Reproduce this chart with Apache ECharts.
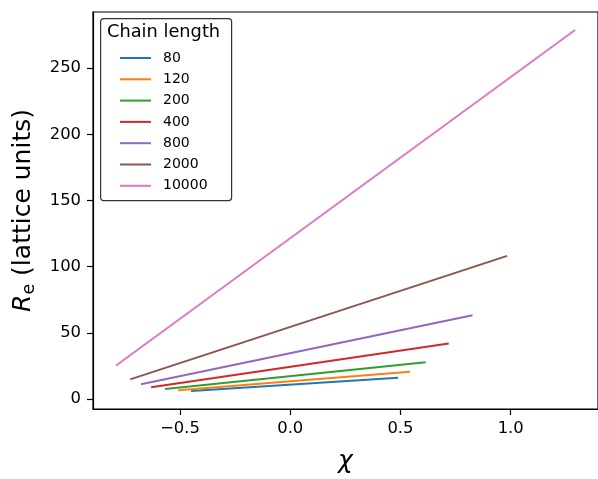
<!DOCTYPE html>
<html>
<head>
<meta charset="utf-8">
<script src="https://cdn.jsdelivr.net/npm/echarts@6/dist/echarts.min.js"></script>
<style>
html,body{margin:0;padding:0;background:#fff;}
#chart{width:598px;height:479px;}
</style>
</head>
<body>
<div id="chart"></div>
<script>
// Data
const chainLengths = ['80', '120', '200', '400', '800', '2000', '10000'];
const chiStart = [-0.450, -0.508, -0.568, -0.631, -0.677, -0.726, -0.790];
const chiEnd   = [0.489, 0.543, 0.614, 0.719, 0.827, 0.984, 1.292];
const reStart  = [6.0, 6.5, 7.5, 8.8, 11.1, 14.8, 25.3];
const reEnd    = [16.1, 20.6, 27.8, 41.9, 63.2, 108.1, 278.8];
const xTicks = [-0.5, 0.0, 0.5, 1.0];
const yTicks = [0, 50, 100, 150, 200, 250];

const colors = ['#1f77b4', '#ff7f0e', '#2ca02c', '#d62728', '#9467bd', '#8c564b', '#e377c2'];
const FONT = 'DejaVu Sans';

const chart = echarts.init(document.getElementById('chart'), null, {renderer: 'canvas'});

const series = chainLengths.map((name, i) => ({
  name: name,
  type: 'line',
  symbol: 'none',
  data: [[chiStart[i], reStart[i]], [chiEnd[i], reEnd[i]]],
  lineStyle: {color: colors[i], width: 2},
  itemStyle: {color: colors[i]},
  animation: false
}));

chart.setOption({
  animation: false,
  backgroundColor: '#fff',
  grid: {left: 93, top: 12, width: 512, height: 398.7, show: true, borderColor: '#000', borderWidth: 1.2, backgroundColor: 'transparent'},
  xAxis: {
    type: 'value', min: -0.8948, max: 1.396,
    splitLine: {show: false},
    axisLine: {show: true, onZero: false, lineStyle: {color: '#000', width: 1.2}},
    axisTick: {show: true, inside: false, length: 6, customValues: xTicks, lineStyle: {color: '#000', width: 1.2}},
    axisLabel: {customValues: xTicks, margin: 12, fontFamily: FONT, fontSize: 16.4, color: '#000',
      formatter: v => v.toFixed(1).replace('-', '\u2212')},
    name: 'χ', nameLocation: 'middle', nameGap: 40,
    nameTextStyle: {fontFamily: FONT, fontSize: 25, fontStyle: 'italic', color: '#000'}
  },
  yAxis: {
    type: 'value', min: -7.6, max: 292.4,
    splitLine: {show: false},
    axisLine: {show: true, onZero: false, lineStyle: {color: '#000', width: 1.2}},
    axisTick: {show: true, inside: false, length: 6, customValues: yTicks, lineStyle: {color: '#000', width: 1.2}},
    axisLabel: {customValues: yTicks, margin: 12, fontFamily: FONT, fontSize: 16.4, color: '#000'},
    name: '{r|R}{s|e}{n| (lattice units)}', nameLocation: 'middle', nameGap: 57,
    nameTextStyle: {
      fontFamily: FONT, fontSize: 25, color: '#000',
      rich: {
        r: {fontFamily: FONT, fontSize: 25, fontStyle: 'italic', color: '#000', lineHeight: 32, verticalAlign: 'bottom'},
        s: {fontFamily: FONT, fontSize: 17.5, color: '#000', lineHeight: 32, verticalAlign: 'bottom', padding: [0, 0, -3, 0]},
        n: {fontFamily: FONT, fontSize: 25, color: '#000', lineHeight: 32, verticalAlign: 'bottom'}
      }
    }
  },
  legend: {
    orient: 'vertical', left: 120, top: 51, padding: 0,
    icon: 'rect',
    itemWidth: 31, itemHeight: 2, itemGap: 7.3,
    data: chainLengths,
    textStyle: {fontFamily: FONT, fontSize: 14, lineHeight: 14, color: '#000', padding: [0, 0, 0, 7]}
  },
  graphic: [
    {type: 'rect', left: 100, top: 18, shape: {width: 131, height: 182, r: 3},
     style: {fill: '#fff', stroke: '#333', lineWidth: 1.2}, z: 0, silent: true},
    {type: 'text', left: 107, top: 23, style: {text: 'Chain length', fontFamily: FONT, fontSize: 17.8, fill: '#000'}, z: 10}
  ],
  series: series
});
</script>
</body>
</html>
